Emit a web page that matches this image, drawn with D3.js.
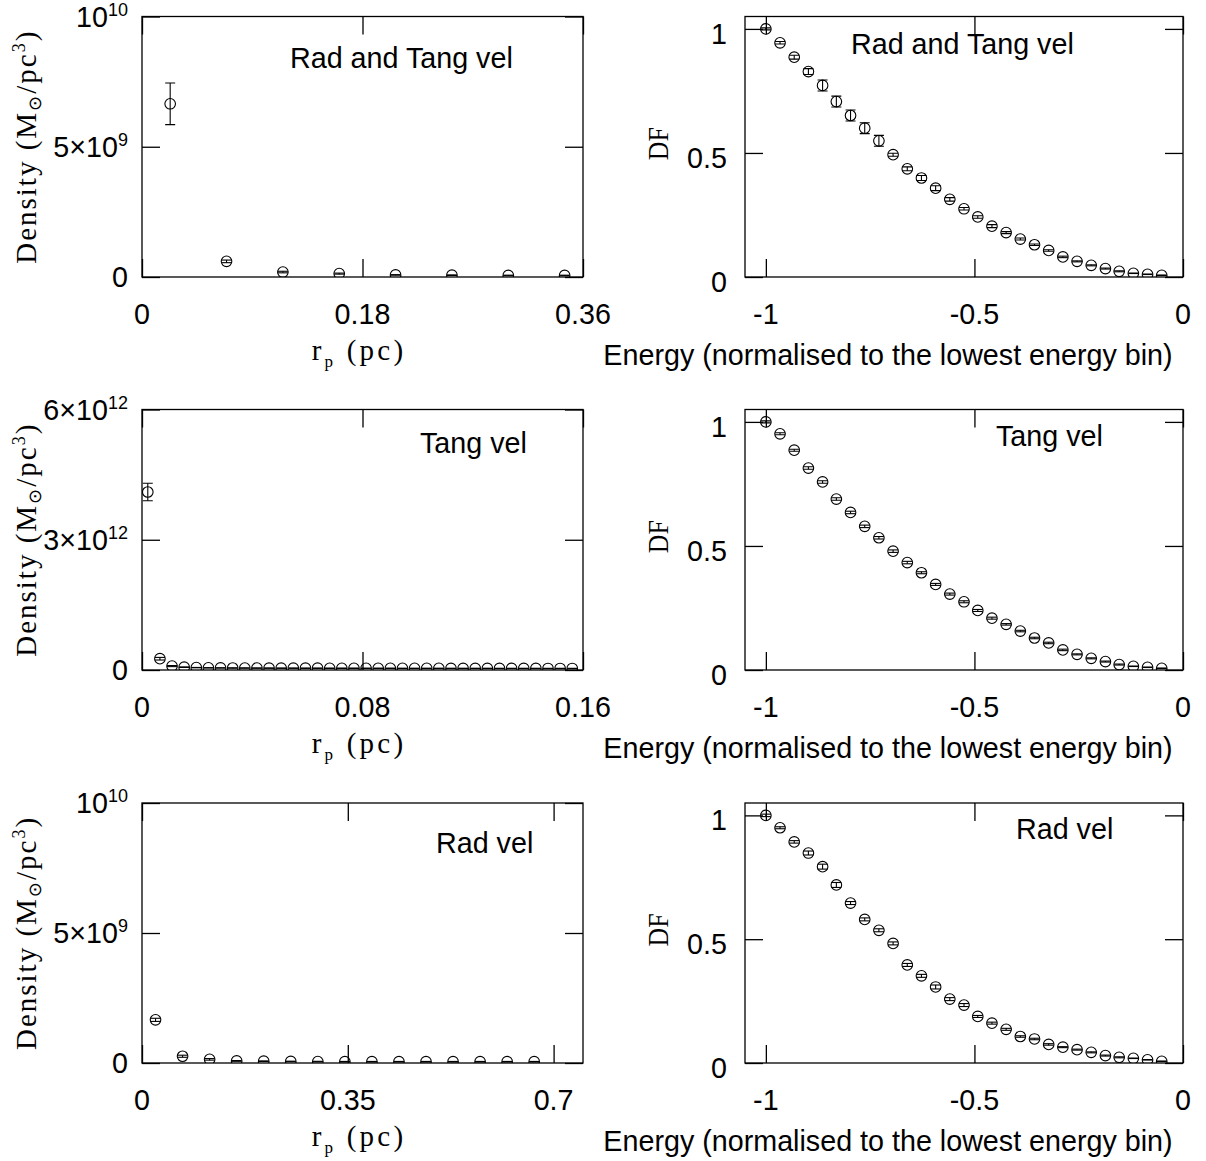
<!DOCTYPE html>
<html>
<head>
<meta charset="utf-8">
<script src="https://cdn.jsdelivr.net/npm/d3@7"></script>
<style>
  html, body { margin: 0; padding: 0; background: #fff; }
  svg { display: block; }
</style>
</head>
<body>
<svg id="chart" width="1206" height="1161"></svg>
<script>
// ---------------- DATA ----------------
// Density panels: projected radius r_p (pc)
const rpRadTang   = [0.023, 0.069, 0.115, 0.161, 0.207, 0.253, 0.299, 0.345];
const densRadTang = [6.65e9, 0.60e9, 0.19e9, 0.13e9, 0.08e9, 0.07e9, 0.06e9, 0.06e9];
const densRadTangErr = [0.8e9, 0.05e9, 0.03e9, 0.02e9, 0.01e9, 0.01e9, 0.01e9, 0.01e9];

const rpTang = [0.0021, 0.0065, 0.0109, 0.0153, 0.0197, 0.0241, 0.0285, 0.0329, 0.0373, 0.0417,
                0.0461, 0.0505, 0.0549, 0.0593, 0.0637, 0.0681, 0.0725, 0.0769, 0.0813, 0.0857,
                0.0901, 0.0945, 0.0989, 0.1033, 0.1077, 0.1121, 0.1165, 0.1209, 0.1253, 0.1297,
                0.1341, 0.1385, 0.1429, 0.1473, 0.1517, 0.1561];
const densTang = [4.10e12, 0.26e12, 0.09e12, 0.065e12, 0.055e12, 0.05e12, 0.048e12, 0.046e12, 0.045e12, 0.044e12,
                  0.043e12, 0.042e12, 0.042e12, 0.041e12, 0.041e12, 0.040e12, 0.040e12, 0.040e12, 0.039e12, 0.039e12,
                  0.039e12, 0.038e12, 0.038e12, 0.038e12, 0.038e12, 0.037e12, 0.037e12, 0.037e12, 0.037e12, 0.036e12,
                  0.036e12, 0.036e12, 0.036e12, 0.035e12, 0.035e12, 0.035e12];
const densTangErr = [0.2e12, 0.03e12, 0.012e12, 0.006e12, 0.004e12, 0.004e12, 0.004e12, 0.004e12, 0.004e12, 0.004e12,
                     0.004e12, 0.004e12, 0.004e12, 0.004e12, 0.004e12, 0.004e12, 0.004e12, 0.004e12, 0.004e12, 0.004e12,
                     0.004e12, 0.004e12, 0.004e12, 0.004e12, 0.004e12, 0.004e12, 0.004e12, 0.004e12, 0.004e12, 0.004e12,
                     0.004e12, 0.004e12, 0.004e12, 0.004e12, 0.004e12, 0.004e12];

const rpRad   = [0.023, 0.069, 0.115, 0.161, 0.207, 0.253, 0.299, 0.345, 0.391, 0.437, 0.483, 0.529, 0.575, 0.621, 0.667];
const densRad = [1.66e9, 0.26e9, 0.14e9, 0.08e9, 0.07e9, 0.06e9, 0.055e9, 0.05e9, 0.05e9, 0.05e9, 0.05e9, 0.05e9, 0.05e9, 0.05e9, 0.05e9];
const densRadErr = [0.06e9, 0.04e9, 0.03e9, 0.015e9, 0.01e9, 0.01e9, 0.01e9, 0.01e9, 0.01e9, 0.01e9, 0.01e9, 0.01e9, 0.01e9, 0.01e9, 0.01e9];

// DF panels: energy normalised to the lowest energy bin
const energy = [-1.000, -0.966, -0.932, -0.898, -0.864, -0.831, -0.797, -0.763, -0.729, -0.695,
                -0.661, -0.627, -0.593, -0.559, -0.525, -0.492, -0.458, -0.424, -0.390, -0.356,
                -0.322, -0.288, -0.254, -0.220, -0.186, -0.153, -0.119, -0.085, -0.051];
const dfRadTang = [1.000, 0.944, 0.886, 0.828, 0.772, 0.707, 0.651, 0.600, 0.549, 0.493,
                   0.436, 0.399, 0.358, 0.313, 0.275, 0.242, 0.205, 0.179, 0.153, 0.130,
                   0.107, 0.081, 0.063, 0.047, 0.034, 0.023, 0.015, 0.011, 0.007];
const dfRadTangErr = [0.004, 0.005, 0.008, 0.012, 0.022, 0.022, 0.022, 0.022, 0.022, 0.006,
                      0.008, 0.010, 0.010, 0.007, 0.005, 0.005, 0.006, 0.004, 0.004, 0.003,
                      0.003, 0.003, 0.002, 0.002, 0.002, 0.002, 0.001, 0.001, 0.001];
const dfTang = [1.000, 0.952, 0.886, 0.814, 0.758, 0.689, 0.635, 0.579, 0.533, 0.479,
                0.433, 0.392, 0.345, 0.306, 0.275, 0.240, 0.209, 0.184, 0.157, 0.129,
                0.109, 0.081, 0.063, 0.047, 0.034, 0.022, 0.015, 0.011, 0.007];
const dfTangErr = [0.004, 0.004, 0.004, 0.005, 0.005, 0.005, 0.005, 0.005, 0.005, 0.005,
                   0.005, 0.004, 0.004, 0.004, 0.004, 0.004, 0.004, 0.003, 0.003, 0.003,
                   0.003, 0.003, 0.002, 0.002, 0.002, 0.002, 0.001, 0.001, 0.001];
const dfRad = [1.000, 0.950, 0.893, 0.848, 0.793, 0.719, 0.646, 0.580, 0.536, 0.483,
               0.396, 0.352, 0.307, 0.258, 0.234, 0.188, 0.161, 0.136, 0.107, 0.097,
               0.075, 0.064, 0.054, 0.043, 0.030, 0.023, 0.019, 0.013, 0.007];
const dfRadErr = [0.005, 0.004, 0.005, 0.008, 0.010, 0.010, 0.006, 0.006, 0.006, 0.006,
                  0.006, 0.006, 0.008, 0.006, 0.006, 0.004, 0.004, 0.004, 0.003, 0.003,
                  0.003, 0.002, 0.002, 0.002, 0.002, 0.002, 0.001, 0.001, 0.001];

// Tick values and labels  ([base, superscript])
const xTicksRadTang = [0, 0.18, 0.36];
const xTickLabelsRadTang = ["0", "0.18", "0.36"];
const xTicksTang = [0, 0.08, 0.16];
const xTickLabelsTang = ["0", "0.08", "0.16"];
const xTicksRad = [0, 0.35, 0.7];
const xTickLabelsRad = ["0", "0.35", "0.7"];
const yTicksDens10 = [0, 5e9, 1e10];
const yTickLabelsDens10 = [["0", ""], ["5\u00D710", "9"], ["10", "10"]];
const yTicksDens12 = [0, 3e12, 6e12];
const yTickLabelsDens12 = [["0", ""], ["3\u00D710", "12"], ["6\u00D710", "12"]];
const xTicksEnergy = [-1, -0.5, 0];
const xTickLabelsEnergy = ["-1", "-0.5", "0"];
const yTicksDF = [0, 0.5, 1];
const yTickLabelsDF = [["0", ""], ["0.5", ""], ["1", ""]];

const panelTitles = ["Rad and Tang vel", "Tang vel", "Rad vel"];

// ---------------- LAYOUT ----------------
const SANS = "'Liberation Sans', Arial, Helvetica, sans-serif";
const SERIF = "'Liberation Serif', 'DejaVu Serif', serif";
const FS = 28.7;
const svg = d3.select("#chart");
const leftX = [142, 583], rightX = [745, 1183];
const rows = [[16.5, 277], [409.5, 670], [803, 1063]];
const TICK = 18;

const panels = [
  {kind: "dens", xr: leftX, yr: rows[0], xDomain: [0, 0.36], yDomain: [0, 1e10],
   xs: rpRadTang, ys: densRadTang, es: densRadTangErr,
   xTicks: xTicksRadTang, xLabels: xTickLabelsRadTang, yTicks: yTicksDens10, yLabels: yTickLabelsDens10,
   title: panelTitles[0], titlePos: [148, 51.5]},
  {kind: "df", xr: rightX, yr: rows[0], xDomain: [-1.05, 0], yDomain: [0, 1.05],
   xs: energy, ys: dfRadTang, es: dfRadTangErr,
   xTicks: xTicksEnergy, xLabels: xTickLabelsEnergy, yTicks: yTicksDF, yLabels: yTickLabelsDF,
   title: panelTitles[0], titlePos: [106, 37.5]},
  {kind: "dens", xr: leftX, yr: rows[1], xDomain: [0, 0.16], yDomain: [0, 6e12],
   xs: rpTang, ys: densTang, es: densTangErr,
   xTicks: xTicksTang, xLabels: xTickLabelsTang, yTicks: yTicksDens12, yLabels: yTickLabelsDens12,
   title: panelTitles[1], titlePos: [278, 43.5]},
  {kind: "df", xr: rightX, yr: rows[1], xDomain: [-1.05, 0], yDomain: [0, 1.05],
   xs: energy, ys: dfTang, es: dfTangErr,
   xTicks: xTicksEnergy, xLabels: xTickLabelsEnergy, yTicks: yTicksDF, yLabels: yTickLabelsDF,
   title: panelTitles[1], titlePos: [251, 36.5]},
  {kind: "dens", xr: leftX, yr: rows[2], xDomain: [0, 0.75], yDomain: [0, 1e10],
   xs: rpRad, ys: densRad, es: densRadErr,
   xTicks: xTicksRad, xLabels: xTickLabelsRad, yTicks: yTicksDens10, yLabels: yTickLabelsDens10,
   title: panelTitles[2], titlePos: [294, 50]},
  {kind: "df", xr: rightX, yr: rows[2], xDomain: [-1.05, 0], yDomain: [0, 1.05],
   xs: energy, ys: dfRad, es: dfRadErr,
   xTicks: xTicksEnergy, xLabels: xTickLabelsEnergy, yTicks: yTicksDF, yLabels: yTickLabelsDF,
   title: panelTitles[2], titlePos: [271, 36]}
];

panels.forEach((p, i) => {
  const [x0, x1] = p.xr, [y0, y1] = p.yr;
  const x = d3.scaleLinear().domain(p.xDomain).range([x0, x1]);
  const y = d3.scaleLinear().domain(p.yDomain).range([y1, y0]);
  const g = svg.append("g");

  // clip
  const cid = "clip" + i;
  svg.append("clipPath").attr("id", cid).append("rect")
    .attr("x", x0).attr("y", y0).attr("width", x1 - x0).attr("height", y1 - y0);

  // inward ticks on all four sides via d3 axes
  const styleAxis = sel => {
    sel.select(".domain").remove();
    sel.selectAll(".tick line").attr("stroke", "#000").attr("stroke-width", 1.3);
    sel.selectAll(".tick text").remove();
  };
  g.append("g").attr("transform", `translate(0,${y1})`)
    .call(d3.axisBottom(x).tickValues(p.xTicks).tickSize(-TICK).tickFormat("")).call(styleAxis);
  g.append("g").attr("transform", `translate(0,${y0})`)
    .call(d3.axisTop(x).tickValues(p.xTicks).tickSize(-TICK).tickFormat("")).call(styleAxis);
  g.append("g").attr("transform", `translate(${x0},0)`)
    .call(d3.axisLeft(y).tickValues(p.yTicks).tickSize(-TICK).tickFormat("")).call(styleAxis);
  g.append("g").attr("transform", `translate(${x1},0)`)
    .call(d3.axisRight(y).tickValues(p.yTicks).tickSize(-TICK).tickFormat("")).call(styleAxis);

  // frame
  g.append("rect").attr("x", x0).attr("y", y0).attr("width", x1 - x0).attr("height", y1 - y0)
    .attr("fill", "none").attr("stroke", "#000").attr("stroke-width", 1.3);

  // x tick labels
  p.xTicks.forEach((t, k) => {
    g.append("text").attr("x", x(t)).attr("y", y1 + 47)
      .attr("text-anchor", "middle").attr("font-family", SANS).attr("font-size", FS)
      .attr("fill", "#000").text(p.xLabels[k]);
  });

  // y tick labels
  const yOff = p.kind === "df" ? 15 : 10;
  const yRight = p.kind === "df" ? x0 - 18 : x0 - 14;
  p.yTicks.forEach((t, k) => {
    const [base, sup] = p.yLabels[k];
    const tx = g.append("text").attr("x", yRight).attr("y", y(t) + yOff)
      .attr("text-anchor", "end").attr("font-family", SANS).attr("font-size", FS).attr("fill", "#000");
    tx.append("tspan").text(base);
    if (sup) tx.append("tspan").attr("font-size", 18).attr("dy", -11).text(sup);
  });

  // axis titles
  const cy = (y0 + y1) / 2;
  if (p.kind === "dens") {
    const t = g.append("text").attr("transform", `translate(36,${cy}) rotate(-90)`)
      .attr("text-anchor", "middle").attr("font-family", SERIF).attr("font-size", 29)
      .attr("letter-spacing", 2).attr("fill", "#000");
    t.append("tspan").text("Density (M");
    t.append("tspan").attr("font-size", 18).attr("dy", 5).attr("font-family", "'DejaVu Sans', sans-serif").text("\u2299");
    t.append("tspan").attr("dy", -5).text("/pc");
    t.append("tspan").attr("font-size", 18).attr("dy", -11).text("3");
    t.append("tspan").attr("dy", 11).text(")");

    const xl = g.append("text").attr("x", 359).attr("y", y1 + 83)
      .attr("text-anchor", "middle").attr("font-family", SERIF).attr("font-size", 29)
      .attr("letter-spacing", 3.2).attr("fill", "#000");
    xl.append("tspan").text("r");
    xl.append("tspan").attr("font-size", 17).attr("dy", 7).text("p");
    xl.append("tspan").attr("dy", -7).text(" (pc)");
  } else {
    g.append("text").attr("transform", `translate(668,${cy - 3}) rotate(-90)`)
      .attr("text-anchor", "middle").attr("font-family", SERIF).attr("font-size", 29)
      .attr("textLength", 33).attr("lengthAdjust", "spacingAndGlyphs")
      .attr("fill", "#000").text("DF");
    g.append("text").attr("x", 888).attr("y", y1 + 88)
      .attr("text-anchor", "middle").attr("font-family", SANS).attr("font-size", FS)
      .attr("fill", "#000").text("Energy (normalised to the lowest energy bin)");
  }

  // panel title
  g.append("text").attr("x", x0 + p.titlePos[0]).attr("y", y0 + p.titlePos[1])
    .attr("font-family", SANS).attr("font-size", FS).attr("fill", "#000").text(p.title);

  // data points with error bars (clipped to frame)
  const pts = p.xs.map((v, k) => ({x: v, y: p.ys[k], e: p.es[k]}));
  const dg = g.append("g").attr("clip-path", `url(#${cid})`)
    .attr("stroke", "#000").attr("stroke-width", 1.1).attr("fill", "none");
  const pg = dg.selectAll("g.pt").data(pts).join("g").attr("class", "pt");
  const CAP = 5;
  pg.append("line").attr("x1", d => x(d.x)).attr("x2", d => x(d.x))
    .attr("y1", d => y(d.y - d.e)).attr("y2", d => y(d.y + d.e));
  pg.append("line").attr("x1", d => x(d.x) - CAP).attr("x2", d => x(d.x) + CAP)
    .attr("y1", d => y(d.y + d.e)).attr("y2", d => y(d.y + d.e));
  pg.append("line").attr("x1", d => x(d.x) - CAP).attr("x2", d => x(d.x) + CAP)
    .attr("y1", d => y(d.y - d.e)).attr("y2", d => y(d.y - d.e));
  pg.append("circle").attr("cx", d => x(d.x)).attr("cy", d => y(d.y)).attr("r", 5.3);
});
</script>
</body>
</html>
